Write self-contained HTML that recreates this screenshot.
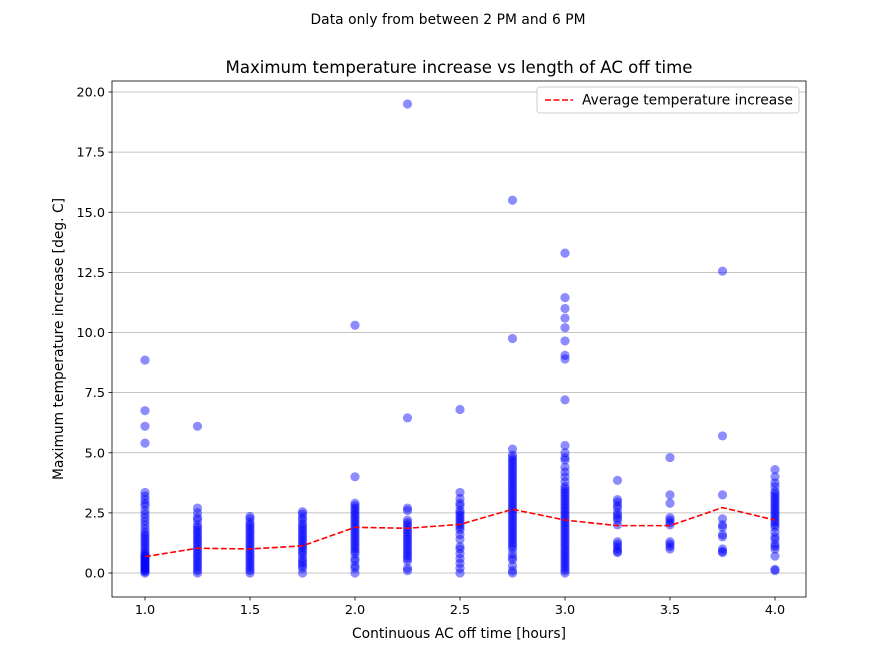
<!DOCTYPE html>
<html><head><meta charset="utf-8"><style>
html,body{margin:0;padding:0;overflow:hidden;background:#fff;width:896px;height:671px;}
svg{display:block;}
svg text{font-family:"DejaVu Sans","Liberation Sans",sans-serif;}
</style></head><body>
<svg id="chart" width="896" height="671" xmlns="http://www.w3.org/2000/svg">
<rect width="896" height="671" fill="#fff"/>
<text x="448" y="24" text-anchor="middle" font-size="13.8" textLength="275">Data only from between 2 PM and 6 PM</text>
<text x="459" y="73" text-anchor="middle" font-size="16.6" textLength="467">Maximum temperature increase vs length of AC off time</text>
<g id="grid"></g><g id="pts"></g><g id="avg"></g><g id="axes"></g>
<text x="459" y="638" text-anchor="middle" font-size="13.8" textLength="214">Continuous AC off time [hours]</text>
<text transform="translate(63,339) rotate(-90)" text-anchor="middle" font-size="13.8" textLength="282">Maximum temperature increase [deg. C]</text>
<g>
<rect x="537" y="87" width="262" height="26" fill="#fff" stroke="#ccc" rx="3"/>
<line x1="545" y1="100" x2="573" y2="100" stroke="red" stroke-width="1.6" stroke-dasharray="6,2.5"/>
<text x="582" y="104.5" font-size="13.8" textLength="211">Average temperature increase</text>
</g>
</svg>
<script>
const categories=[1.0,1.25,1.5,1.75,2.0,2.25,2.5,2.75,3.0,3.25,3.5,3.75,4.0];
const avgValues=[0.68,1.03,1.0,1.13,1.9,1.86,2.02,2.65,2.2,1.97,1.97,2.72,2.2];
const pts1_00=[8.85,6.75,6.1,5.4,3.35,3.2,3.05,2.9,2.8,2.6,2.45,2.3,2.15,2.0,1.85,1.7,1.6,1.5,1.4,1.3,1.2,1.1,1.0,0.9,0.8,0.7,0.6,0.5,0.4,0.3,0.2,0.1,0.05,0,0.15,0.25,0.35,0.45,0.55,0.65,0.75];
const pts1_25=[6.1,2.7,2.5,2.3,2.2,2.0,1.9,1.8,1.7,1.6,1.5,1.4,1.3,1.2,1.1,1.0,0.9,0.8,0.7,0.6,0.5,0.4,0.3,0.2,0.1,0];
const pts1_50=[2.35,2.25,2.1,2.0,1.9,1.8,1.7,1.6,1.5,1.4,1.3,1.2,1.1,1.0,0.9,0.8,0.7,0.6,0.5,0.4,0.3,0.2,0.1,0];
const pts1_75=[2.55,2.45,2.3,2.2,2.05,1.95,1.85,1.75,1.65,1.55,1.45,1.35,1.25,1.15,1.05,0.95,0.85,0.75,0.6,0.5,0.4,0.3,0.2,0];
const pts2_00=[10.3,4.0,2.9,2.8,2.7,2.6,2.5,2.4,2.3,2.2,2.1,2.0,1.9,1.8,1.7,1.6,1.5,1.4,1.3,1.2,1.1,1.0,0.9,0.8,0.6,0.5,0.3,0.2,0];
const pts2_25=[19.5,6.45,2.7,2.6,2.2,2.1,2.0,1.9,1.8,1.7,1.6,1.5,1.4,1.3,1.2,1.1,1.0,0.9,0.8,0.7,0.6,0.5,0.2,0.1];
const pts2_50=[6.8,3.35,3.1,2.9,2.8,2.6,2.5,2.4,2.3,2.2,2.1,2.0,1.9,1.8,1.6,1.4,1.1,1.0,0.8,0.6,0.4,0.2,0];
const pts2_75=[15.5,9.75,5.15,4.9,4.8,4.7,4.6,4.5,4.4,4.3,4.2,4.1,4.0,3.9,3.8,3.7,3.6,3.5,3.4,3.3,3.2,3.1,3.0,2.9,2.8,2.7,2.6,2.5,2.4,2.3,2.2,2.1,2.0,1.9,1.8,1.7,1.6,1.5,1.4,1.3,1.2,1.1,1.0,0.8,0.65,0.55,0.3,0.1,0];
const pts3_00=[13.3,11.45,11.0,10.6,10.2,9.65,9.05,8.9,7.2,5.3,5.0,4.8,4.7,4.4,4.2,4.0,3.8,3.6,3.5,3.4,3.3,3.2,3.1,3.0,2.9,2.8,2.7,2.6,2.5,2.4,2.3,2.2,2.1,2.0,1.9,1.8,1.7,1.6,1.5,1.4,1.3,1.2,1.1,1.0,0.9,0.8,0.7,0.6,0.5,0.4,0.3,0.2,0.1,0];
const pts3_25=[3.85,3.05,2.95,2.8,2.7,2.5,2.4,2.3,2.2,2.0,1.3,1.2,1.1,1.0,0.9,0.85];
const pts3_50=[4.8,3.25,2.9,2.3,2.2,2.1,2.0,1.3,1.2,1.1,1.0];
const pts3_75=[12.55,5.7,3.25,2.25,2.0,1.9,1.6,1.5,1.0,0.9,0.85];
const pts4_00=[4.3,4.0,3.75,3.6,3.4,3.3,3.2,3.1,3.0,2.9,2.8,2.7,2.6,2.5,2.4,2.3,2.2,2.1,2.0,1.9,1.7,1.5,1.4,1.2,1.1,1.0,0.7,0.15,0.1];
const pointSeries=[pts1_00,pts1_25,pts1_50,pts1_75,pts2_00,pts2_25,pts2_50,pts2_75,pts3_00,pts3_25,pts3_50,pts3_75,pts4_00];
const xTicks=[1.0,1.5,2.0,2.5,3.0,3.5,4.0];
const yTicks=[0,2.5,5,7.5,10,12.5,15,17.5,20];

const NS="http://www.w3.org/2000/svg";
const L=112,R=806,T=81,B=597;
function sx(v){return 145+(v-1)*210;}
function sy(v){return 573-v*24.05;}
function mk(tag,attrs,parent){const e=document.createElementNS(NS,tag);for(const k in attrs)e.setAttribute(k,attrs[k]);parent.appendChild(e);return e;}
const grid=document.getElementById('grid'),axes=document.getElementById('axes'),pg=document.getElementById('pts'),ag=document.getElementById('avg');
yTicks.forEach(t=>{
  const g=mk('line',{x1:L,x2:R,y1:sy(t),y2:sy(t),stroke:'#b0b0b0','stroke-width':0.8},grid);
  
  
  mk('line',{x1:L-3.5,x2:L,y1:sy(t),y2:sy(t),stroke:'#000','stroke-width':0.8},axes);
  const tx=mk('text',{x:L-7,y:sy(t)+4.5,'text-anchor':'end','font-size':12.8},axes);
  tx.textContent=t.toFixed(1);
  
  
});
xTicks.forEach(t=>{
  mk('line',{x1:sx(t),x2:sx(t),y1:B,y2:B+3.5,stroke:'#000','stroke-width':0.8},axes);
  const tx=mk('text',{x:sx(t),y:B+17,'text-anchor':'middle','font-size':12.8},axes);
  tx.textContent=t.toFixed(1);
  
  
});
const frame=mk('rect',{x:L,y:T,width:R-L,height:B-T,fill:'none',stroke:'#000','stroke-width':0.8},axes);


pointSeries.forEach((arr,i)=>{
  arr.forEach(v=>{
    const c=mk('circle',{cx:sx(categories[i]),cy:sy(v),r:4.6,fill:'#0000ff','fill-opacity':0.45},pg);
    
    
  });
});
const d=categories.map((c,i)=>(i?'L':'M')+sx(c)+','+sy(avgValues[i])).join(' ');
const p=mk('path',{d:d,fill:'none',stroke:'red','stroke-width':1.6,'stroke-dasharray':'6,2.5'},ag);


</script>
</body></html>
